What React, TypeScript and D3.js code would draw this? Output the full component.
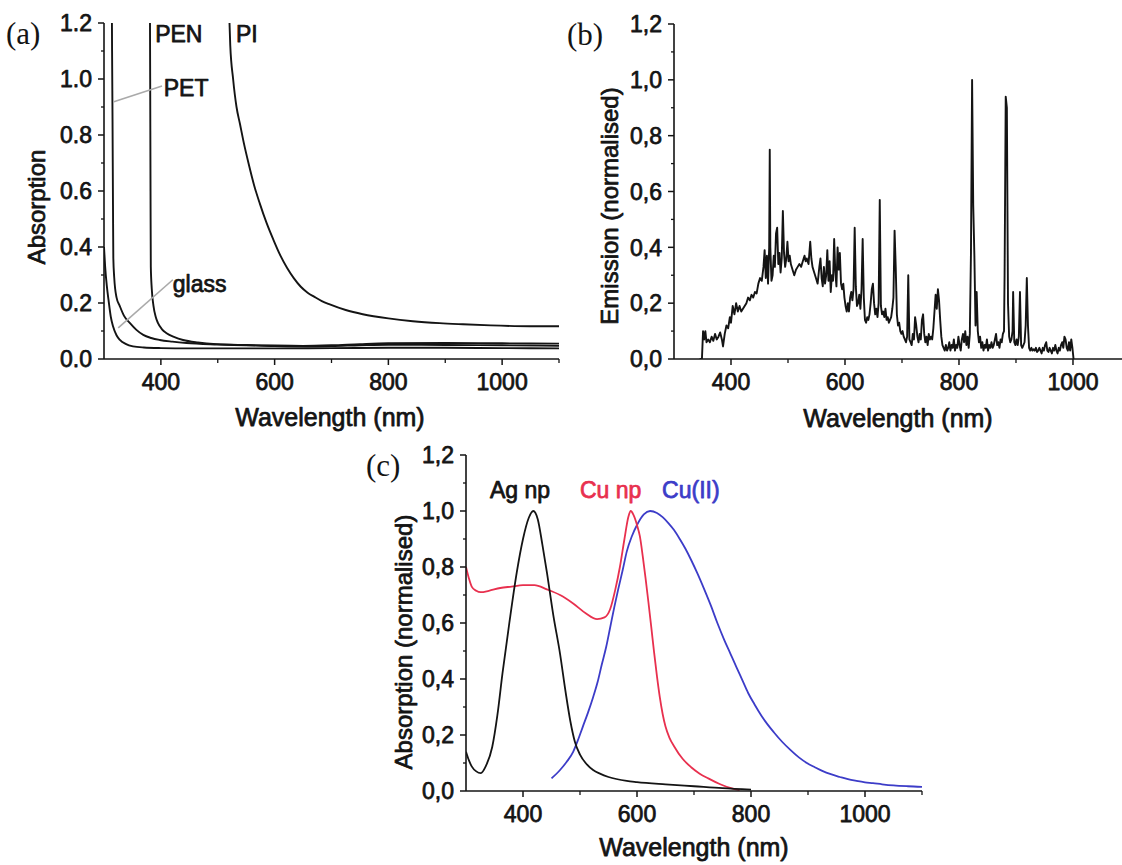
import React, { useEffect, useRef } from 'react';
import * as d3 from 'd3';

type P = [number, number];

// ---------- Panel (a): absorption of substrates ----------
const glassA: P[] = [
  [300, 0.40], [302, 0.33], [305, 0.26], [308, 0.21], [312, 0.15], [316, 0.116], [322, 0.085],
  [328, 0.068], [338, 0.054], [351, 0.045], [370, 0.041], [400, 0.039], [450, 0.038], [500, 0.038],
  [600, 0.038], [700, 0.039], [800, 0.04], [900, 0.04], [1000, 0.039], [1100, 0.038],
];
const petA: P[] = [
  [313.6, 1.35], [314.2, 1.1], [315, 0.85], [315.8, 0.55], [316.4, 0.36], [318, 0.29], [322, 0.22],
  [327.6, 0.19], [335, 0.155], [345.7, 0.128], [357, 0.104], [369, 0.086], [383, 0.075], [398, 0.068],
  [420, 0.062], [445, 0.057], [500, 0.052], [550, 0.049], [600, 0.046], [650, 0.045], [700, 0.046],
  [750, 0.049], [800, 0.051], [900, 0.05], [1000, 0.049], [1100, 0.047],
];
const penA: P[] = [
  [380.6, 1.35], [381.2, 1.0], [381.8, 0.6], [382.3, 0.33], [384, 0.25], [387, 0.19], [391, 0.15],
  [395, 0.128], [402, 0.106], [410, 0.092], [424, 0.078], [439, 0.068], [465, 0.059], [498, 0.053],
  [550, 0.05], [600, 0.048], [650, 0.047], [700, 0.049], [750, 0.053], [800, 0.056], [900, 0.057],
  [1000, 0.056], [1100, 0.055],
];
const piA: P[] = [
  [519, 1.3], [522, 1.12], [527, 1.0], [533, 0.9], [539, 0.84], [546, 0.77], [554, 0.7], [564, 0.62],
  [574, 0.555], [586, 0.485], [598, 0.425], [610, 0.37], [622, 0.325], [634, 0.288], [646, 0.258],
  [658, 0.237], [670, 0.222], [683, 0.207], [697, 0.195], [725, 0.175], [755, 0.16], [800, 0.145],
  [843, 0.135], [890, 0.128], [931, 0.124], [980, 0.12], [1049, 0.117], [1100, 0.117],
];

// ---------- Panel (b): emission spectrum ----------
const emissionB: P[] = [
  [345, 0], [349, 0], [351, 0.10], [353, 0.07], [355, 0.10], [357, 0.06], [360, 0.07], [363, 0.06],
  [366, 0.08], [369, 0.065], [372, 0.09], [375, 0.07], [378, 0.08], [381, 0.095], [384, 0.07],
  [386, 0.045], [389, 0.09], [392, 0.12], [395, 0.11], [398, 0.15], [400, 0.13], [403, 0.19],
  [406, 0.16], [409, 0.20], [412, 0.17], [415, 0.19], [418, 0.17], [421, 0.18], [424, 0.19],
  [427, 0.20], [430, 0.22], [433, 0.21], [436, 0.23], [439, 0.22], [442, 0.24], [445, 0.235],
  [448, 0.27], [451, 0.29], [454, 0.28], [457, 0.33], [459, 0.39], [461, 0.29], [463, 0.37],
  [465, 0.27], [467, 0.40], [468, 0.75], [469, 0.40], [471, 0.28], [473, 0.30], [475, 0.37],
  [477, 0.33], [479, 0.45], [481, 0.47], [483, 0.34], [485, 0.38], [487, 0.31], [489, 0.36],
  [491, 0.53], [493, 0.38], [495, 0.33], [497, 0.36], [499, 0.42], [501, 0.35], [503, 0.37],
  [505, 0.34], [508, 0.32], [511, 0.30], [514, 0.32], [517, 0.33], [520, 0.34], [523, 0.33],
  [526, 0.35], [529, 0.37], [531, 0.35], [533, 0.36], [536, 0.34], [539, 0.42], [541, 0.36],
  [543, 0.33], [546, 0.31], [549, 0.29], [552, 0.27], [555, 0.33], [557, 0.36], [559, 0.29],
  [561, 0.26], [563, 0.33], [565, 0.27], [567, 0.30], [569, 0.39], [571, 0.28], [573, 0.35],
  [575, 0.24], [577, 0.30], [579, 0.28], [581, 0.43], [583, 0.31], [585, 0.26], [587, 0.40],
  [589, 0.32], [591, 0.38], [593, 0.27], [595, 0.25], [597, 0.27], [599, 0.22], [601, 0.19],
  [603, 0.17], [605, 0.20], [607, 0.17], [609, 0.22], [611, 0.24], [613, 0.21], [615, 0.25],
  [617, 0.47], [619, 0.26], [621, 0.19], [623, 0.20], [625, 0.23], [627, 0.18], [629, 0.25],
  [631, 0.43], [633, 0.22], [635, 0.14], [637, 0.13], [639, 0.15], [641, 0.14], [643, 0.16],
  [645, 0.20], [647, 0.25], [649, 0.27], [651, 0.20], [653, 0.16], [655, 0.18], [657, 0.15],
  [659, 0.20], [661, 0.57], [663, 0.19], [665, 0.16], [667, 0.17], [669, 0.15], [671, 0.18],
  [673, 0.14], [675, 0.15], [677, 0.13], [679, 0.14], [681, 0.15], [683, 0.18], [685, 0.22],
  [687, 0.46], [689, 0.33], [691, 0.16], [693, 0.12], [695, 0.13], [697, 0.10], [699, 0.09],
  [701, 0.10], [703, 0.08], [705, 0.07], [707, 0.06], [709, 0.08], [711, 0.30], [713, 0.07],
  [715, 0.06], [717, 0.05], [719, 0.09], [721, 0.07], [723, 0.15], [725, 0.12], [727, 0.08],
  [729, 0.06], [731, 0.09], [733, 0.07], [735, 0.14], [737, 0.16], [739, 0.09], [741, 0.06],
  [743, 0.08], [745, 0.05], [747, 0.09], [749, 0.07], [751, 0.08], [753, 0.07], [755, 0.11],
  [757, 0.17], [759, 0.23], [761, 0.18], [763, 0.25], [765, 0.21], [767, 0.14], [769, 0.08],
  [771, 0.05], [773, 0.04], [775, 0.03], [777, 0.05], [779, 0.03], [781, 0.04], [783, 0.06],
  [785, 0.03], [787, 0.05], [789, 0.04], [791, 0.07], [793, 0.03], [795, 0.05], [797, 0.04],
  [799, 0.08], [801, 0.05], [803, 0.03], [805, 0.07], [807, 0.09], [809, 0.06], [811, 0.10],
  [813, 0.05], [815, 0.08], [817, 0.04], [819, 0.09], [821, 0.38], [823, 1.0], [825, 0.55],
  [827, 0.37], [829, 0.12], [831, 0.24], [833, 0.10], [835, 0.06], [837, 0.08], [839, 0.04],
  [841, 0.06], [843, 0.03], [845, 0.05], [847, 0.04], [849, 0.07], [851, 0.03], [853, 0.05],
  [855, 0.04], [857, 0.06], [859, 0.04], [861, 0.05], [863, 0.07], [865, 0.09], [867, 0.05],
  [869, 0.06], [871, 0.04], [873, 0.07], [875, 0.06], [877, 0.09], [879, 0.10], [880, 0.30],
  [882, 0.94], [884, 0.90], [886, 0.20], [888, 0.08], [890, 0.06], [892, 0.07], [894, 0.10],
  [895, 0.24], [897, 0.06], [899, 0.05], [901, 0.07], [903, 0.05], [905, 0.08], [907, 0.24],
  [909, 0.05], [911, 0.04], [913, 0.05], [915, 0.06], [917, 0.12], [919, 0.29], [921, 0.12],
  [923, 0.04], [925, 0.03], [927, 0.04], [929, 0.03], [931, 0.035], [933, 0.03], [935, 0.04],
  [937, 0.025], [939, 0.03], [941, 0.04], [943, 0.03], [945, 0.02], [947, 0.04], [949, 0.03],
  [951, 0.05], [953, 0.06], [955, 0.03], [957, 0.025], [959, 0.04], [961, 0.03], [963, 0.02],
  [965, 0.04], [967, 0.03], [969, 0.05], [971, 0.03], [973, 0.02], [975, 0.04], [977, 0.03],
  [979, 0.05], [981, 0.06], [983, 0.04], [985, 0.08], [987, 0.07], [989, 0.04], [991, 0.03],
  [993, 0.06], [995, 0.03], [997, 0.07], [999, 0.04], [1001, 0],
];

// ---------- Panel (c): nanoparticle absorption ----------
const agNp: P[] = [
  [300, 0.14], [305, 0.11], [310, 0.088], [318, 0.07], [326, 0.064], [335, 0.09], [346, 0.157],
  [355, 0.27], [364, 0.42], [376, 0.6], [389, 0.78], [400, 0.9], [410, 0.975], [418, 1.0],
  [426, 0.97], [434, 0.88], [442, 0.78], [453, 0.63], [465, 0.49], [475, 0.35], [483, 0.25],
  [491, 0.176], [500, 0.13], [512, 0.095], [523, 0.075], [535, 0.062], [550, 0.05], [582, 0.036],
  [600, 0.032], [650, 0.024], [700, 0.017], [750, 0.01], [800, 0.005],
];
const cuNp: P[] = [
  [300, 0.80], [305, 0.76], [310, 0.73], [318, 0.715], [326, 0.71], [340, 0.715], [360, 0.725],
  [380, 0.73], [400, 0.735], [420, 0.735], [442, 0.72], [465, 0.70], [488, 0.67], [510, 0.635],
  [530, 0.614], [543, 0.62], [553, 0.65], [562, 0.72], [570, 0.80], [578, 0.9], [585, 0.98],
  [589, 1.0], [594, 0.985], [600, 0.95], [605, 0.91], [610, 0.84], [615, 0.76], [620, 0.675],
  [625, 0.586], [630, 0.495], [635, 0.41], [640, 0.335], [645, 0.275], [650, 0.23], [657, 0.19],
  [665, 0.16], [680, 0.115], [695, 0.085], [710, 0.062], [725, 0.045], [745, 0.025], [765, 0.01],
  [780, 0.003],
];
const cuII: P[] = [
  [450, 0.045], [465, 0.075], [477, 0.105], [488, 0.14], [497, 0.185], [505, 0.23], [514, 0.28],
  [523, 0.335], [531, 0.39], [538, 0.45], [546, 0.515], [553, 0.585], [560, 0.655], [567, 0.72],
  [575, 0.79], [582, 0.855], [591, 0.91], [600, 0.95], [612, 0.988], [623, 1.0], [635, 0.993],
  [645, 0.978], [655, 0.957], [665, 0.932], [675, 0.90], [685, 0.865], [695, 0.825], [706, 0.777],
  [718, 0.72], [730, 0.66], [741, 0.60], [753, 0.54], [764, 0.49], [775, 0.44], [785, 0.395],
  [795, 0.35], [806, 0.31], [818, 0.27], [829, 0.238], [840, 0.21], [855, 0.175], [870, 0.145],
  [884, 0.12], [898, 0.10], [912, 0.085], [925, 0.072], [940, 0.06], [956, 0.05], [970, 0.042],
  [985, 0.036], [1000, 0.031], [1014, 0.028], [1030, 0.024], [1050, 0.02], [1075, 0.017], [1100, 0.015],
];

const yMajor = [0, 0.2, 0.4, 0.6, 0.8, 1.0, 1.2];
const yMinor = [0.1, 0.3, 0.5, 0.7, 0.9, 1.1];
const xMajor = [400, 600, 800, 1000];
const xMinor = [500, 700, 900, 1100];

const FONT = "'Liberation Sans', Arial, Helvetica, sans-serif";
const INK = '#141414';
const RED = '#e8304e';
const BLUE = '#3c3cc8';
const TXT_STROKE = 0.75;

export default function App() {
  const ref = useRef<SVGSVGElement | null>(null);
  const svgW = 1122;
  const svgH = 865;

  useEffect(() => {
    const svg = d3.select(ref.current);
    svg.selectAll('*').remove();

    const dotFmt = (v: number) => d3.format('.1f')(v);
    const commaFmt = (v: number) => d3.format('.1f')(v).replace('.', ',');

    function txt(sel: any, col: string) {
      return sel.attr('font-family', FONT).attr('fill', col).attr('stroke', col)
        .attr('stroke-width', TXT_STROKE).attr('stroke-linejoin', 'round');
    }

    function axes(
      id: string,
      x: any,
      y: any,
      fmt: (v: number) => string,
      xEnd: number,
      xTitle: string,
      xTitlePos: number[],
      yTitle: string,
      yTitlePos: number[],
    ) {
      const g = svg.append('g').attr('id', id);
      const x0 = x.range()[0];
      const y0 = y.range()[0];
      g.append('line').attr('x1', x0).attr('x2', x0).attr('y1', y0).attr('y2', y(1.2))
        .attr('stroke', INK).attr('stroke-width', 1.6);
      g.append('line').attr('x1', x0).attr('x2', xEnd).attr('y1', y0).attr('y2', y0)
        .attr('stroke', INK).attr('stroke-width', 1.6);
      yMajor.forEach((v) => {
        g.append('line').attr('x1', x0 - 6).attr('x2', x0).attr('y1', y(v)).attr('y2', y(v))
          .attr('stroke', INK).attr('stroke-width', 1.5);
        txt(g.append('text').attr('x', x0 - 12).attr('y', y(v)).attr('dy', '0.36em')
          .attr('text-anchor', 'end').attr('font-size', 23), INK).text(fmt(v));
      });
      yMinor.forEach((v) => {
        g.append('line').attr('x1', x0 - 3).attr('x2', x0).attr('y1', y(v)).attr('y2', y(v))
          .attr('stroke', INK).attr('stroke-width', 1.3);
      });
      xMajor.forEach((v) => {
        if (x(v) > xEnd) return;
        g.append('line').attr('x1', x(v)).attr('x2', x(v)).attr('y1', y0).attr('y2', y0 + 6)
          .attr('stroke', INK).attr('stroke-width', 1.5);
        txt(g.append('text').attr('x', x(v)).attr('y', y0 + 31)
          .attr('text-anchor', 'middle').attr('font-size', 23), INK).text(String(v));
      });
      xMinor.forEach((v) => {
        if (x(v) > xEnd) return;
        g.append('line').attr('x1', x(v)).attr('x2', x(v)).attr('y1', y0).attr('y2', y0 + 4)
          .attr('stroke', INK).attr('stroke-width', 1.3);
      });
      txt(g.append('text').attr('x', xTitlePos[0]).attr('y', xTitlePos[1])
        .attr('text-anchor', 'middle').attr('font-size', 25), INK).text(xTitle);
      txt(g.append('text')
        .attr('transform', `translate(${yTitlePos[0]},${yTitlePos[1]}) rotate(-90)`)
        .attr('text-anchor', 'middle').attr('font-size', 24), INK).text(yTitle);
    }

    const defs = svg.append('defs');
    function clip(id: string, x: any, y: any) {
      defs.append('clipPath').attr('id', id).append('rect')
        .attr('x', x.range()[0]).attr('y', y(1.2))
        .attr('width', x.range()[1] - x.range()[0]).attr('height', y(0) - y(1.2));
    }

    // ----- Panel (a)
    const xa = d3.scaleLinear().domain([300, 1100]).range([104, 559]);
    const ya = d3.scaleLinear().domain([0, 1.2]).range([359, 23]);
    clip('clipA', xa, ya);
    const lineA = d3.line<P>().x((d) => xa(d[0])).y((d) => ya(d[1])).curve(d3.curveMonotoneX);
    const ga = svg.append('g').attr('clip-path', 'url(#clipA)');
    [glassA, petA, penA, piA].forEach((s) => {
      ga.append('path').attr('d', lineA(s) as string).attr('fill', 'none')
        .attr('stroke', INK).attr('stroke-width', 1.9);
    });
    const leaders: P[][] = [
      [[316, 0.918], [402, 0.975]],
      [[325, 0.111], [421, 0.283]],
    ];
    leaders.forEach(([a, b]) => {
      svg.append('line').attr('x1', xa(a[0])).attr('y1', ya(a[1])).attr('x2', xa(b[0])).attr('y2', ya(b[1]))
        .attr('stroke', '#aaaaaa').attr('stroke-width', 1.6);
    });
    const labelsA: [string, number, number][] = [
      ['PEN', 390, 1.133], ['PI', 532, 1.133], ['PET', 405, 0.94], ['glass', 421, 0.24],
    ];
    labelsA.forEach(([t, nm, v]) => {
      txt(svg.append('text').attr('x', xa(nm)).attr('y', ya(v)).attr('font-size', 23), INK).text(t);
    });
    axes('axA', xa, ya, dotFmt, 559, 'Wavelength (nm)', [330, 426], 'Absorption', [45, 207]);

    // ----- Panel (b)
    const xb = d3.scaleLinear().domain([300, 1086]).range([674, 1122]);
    const yb = d3.scaleLinear().domain([0, 1.2]).range([359, 24]);
    clip('clipB', xb, yb);
    const lineB = d3.line<P>().x((d) => xb(d[0])).y((d) => yb(d[1]));
    svg.append('g').attr('clip-path', 'url(#clipB)').append('path')
      .attr('d', lineB(emissionB) as string).attr('fill', 'none')
      .attr('stroke', INK).attr('stroke-width', 1.9).attr('stroke-linejoin', 'round');
    axes('axB', xb, yb, commaFmt, 1122, 'Wavelength (nm)', [898, 427], 'Emission (normalised)', [618, 206]);

    // ----- Panel (c)
    const xc = d3.scaleLinear().domain([300, 1100]).range([466, 922]);
    const yc = d3.scaleLinear().domain([0, 1.2]).range([791, 455]);
    clip('clipC', xc, yc);
    const lineC = d3.line<P>().x((d) => xc(d[0])).y((d) => yc(d[1])).curve(d3.curveMonotoneX);
    const gc = svg.append('g').attr('clip-path', 'url(#clipC)');
    const seriesC: [P[], string][] = [[cuII, BLUE], [cuNp, RED], [agNp, INK]];
    seriesC.forEach(([s, col]) => {
      gc.append('path').attr('d', lineC(s) as string).attr('fill', 'none')
        .attr('stroke', col).attr('stroke-width', 1.8);
    });
    const labelsC: [string, number, string][] = [
      ['Ag np', 342, INK], ['Cu np', 500, RED], ['Cu(II)', 644, BLUE],
    ];
    labelsC.forEach(([t, nm, col]) => {
      txt(svg.append('text').attr('x', xc(nm)).attr('y', yc(1.046)).attr('font-size', 23), col).text(t);
    });
    axes('axC', xc, yc, commaFmt, 922, 'Wavelength (nm)', [694, 856], 'Absorption (normalised)', [412, 642]);

    const letters: [string, number, number][] = [['(a)', 6, 44], ['(b)', 567, 45], ['(c)', 366, 476]];
    letters.forEach(([t, x, y]) => {
      svg.append('text').attr('x', x).attr('y', y)
        .attr('font-family', "'Liberation Serif', 'Times New Roman', serif")
        .attr('font-size', 31).attr('fill', INK).text(t);
    });
  }, []);

  return (
    <svg
      ref={ref}
      width={svgW}
      height={svgH}
      viewBox={`0 0 ${svgW} ${svgH}`}
      style={{ position: 'absolute', left: 0, top: 0, background: '#fff', display: 'block' }}
    />
  );
}
